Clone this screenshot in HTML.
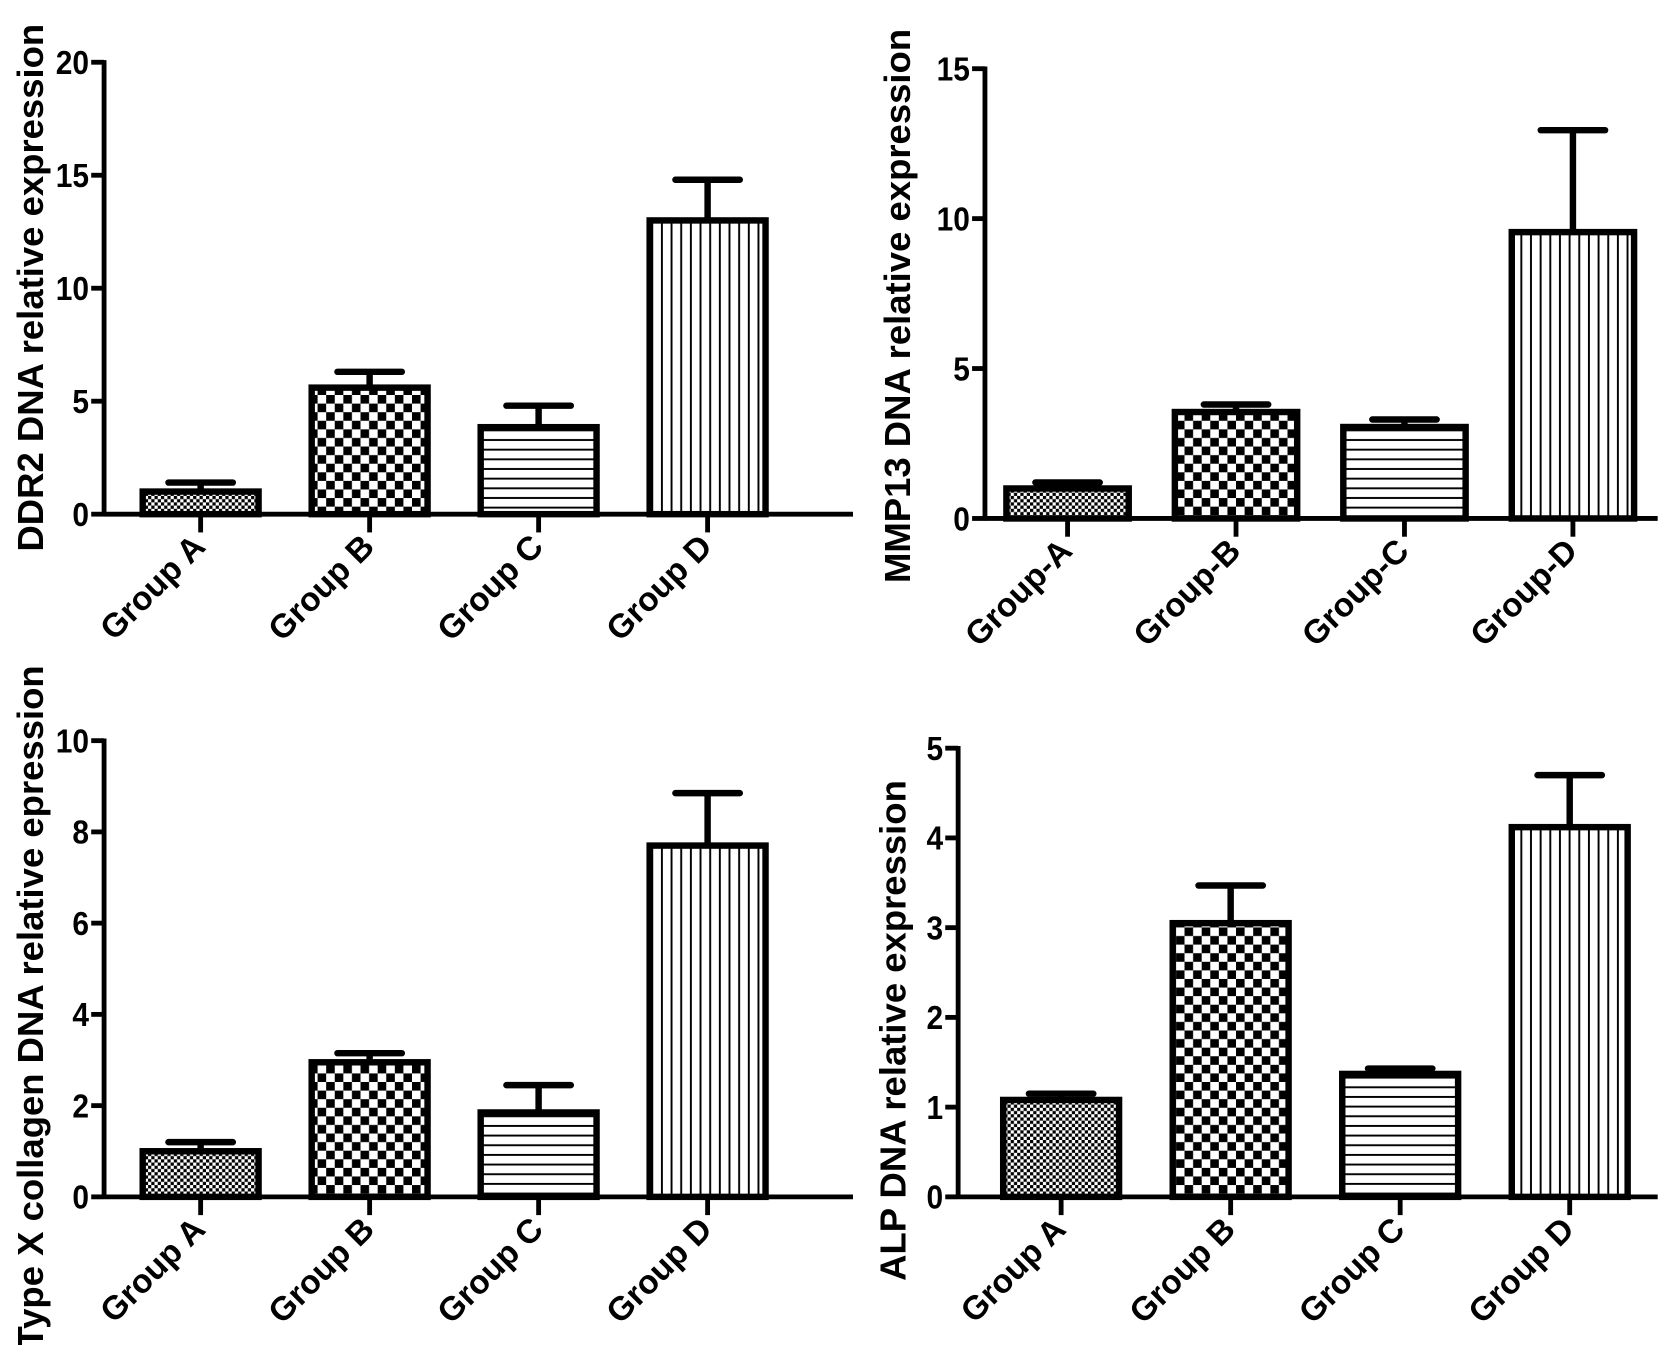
<!DOCTYPE html>
<html><head><meta charset="utf-8"><style>
html,body{margin:0;padding:0;background:#fff;}
svg{display:block;}
text{font-family:"Liberation Sans",sans-serif;font-weight:bold;fill:#000;}
</style></head><body>
<svg id="fig" width="1677" height="1345" viewBox="0 0 1563 1253" preserveAspectRatio="none" xmlns="http://www.w3.org/2000/svg">
<defs>
<pattern id="pA" width="6" height="6" patternUnits="userSpaceOnUse"><rect width="6" height="6" fill="#fff"/><rect width="3" height="3" fill="#000"/><rect x="3" y="3" width="3" height="3" fill="#000"/></pattern>
<pattern id="pB" width="16" height="16" patternUnits="userSpaceOnUse"><rect width="16" height="16" fill="#fff"/><rect width="8" height="8" fill="#000"/><rect x="8" y="8" width="8" height="8" fill="#000"/></pattern>
<pattern id="pC" width="10" height="9" patternUnits="userSpaceOnUse"><rect width="10" height="9" fill="#fff"/><rect y="4" width="10" height="1.8" fill="#000"/></pattern>
<pattern id="pD" width="9" height="10" patternUnits="userSpaceOnUse"><rect width="9" height="10" fill="#fff"/><rect x="4" width="1.8" height="10" fill="#000"/></pattern>
</defs>
</svg>
<script>
const NS='http://www.w3.org/2000/svg';
const svg=document.getElementById('fig');
const categoriesAB=['Group A','Group B','Group C','Group D'];
const categoriesMMP=['Group-A','Group-B','Group-C','Group-D'];
const ddr2Values=[1.0,5.6,3.85,13.0];
const ddr2Errors=[1.4,6.3,4.8,14.8];
const ddr2Ticks=[0,5,10,15,20];
const mmp13Values=[1.0,3.55,3.05,9.55];
const mmp13Errors=[1.2,3.8,3.3,12.95];
const mmp13Ticks=[0,5,10,15];
const colXValues=[1.0,2.95,1.85,7.7];
const colXErrors=[1.2,3.15,2.45,8.85];
const colXTicks=[0,2,4,6,8,10];
const alpValues=[1.08,3.05,1.37,4.12];
const alpErrors=[1.15,3.47,1.43,4.7];
const alpTicks=[0,1,2,3,4,5];
const fills=['url(#pA)','url(#pB)','url(#pC)','url(#pD)'];

function mk(tag,attrs,parent){const e=document.createElementNS(NS,tag);for(const k in attrs)e.setAttribute(k,attrs[k]);(parent||svg).appendChild(e);return e;}

function chart(cfg,cats,vals,errs,ticks,prefix){
  const g=mk('g',{});
  
  
  const max=ticks[ticks.length-1];
  const y=v=>cfg.y0-(v/max)*(cfg.y0-cfg.yTop);
  const x=i=>cfg.bx0+i*cfg.step;
  vals.forEach((v,i)=>{
    const cx=x(i)+cfg.bw/2;
    const eb=mk('path',{d:`M${cx} ${y(v)} V${y(errs[i])} M${cx-cfg.cap/2} ${y(errs[i])} H${cx+cfg.cap/2}`,stroke:'#000','stroke-width':6,'stroke-linecap':'round',fill:'none'},g);
    
    
    const r=mk('rect',{x:x(i),y:y(v),width:cfg.bw,height:cfg.y0-y(v),fill:fills[i],stroke:'#000','stroke-width':6},g);
    
    
  });
  const ya=mk('line',{x1:cfg.ax,y1:y(max)-2,x2:cfg.ax,y2:cfg.y0+2,stroke:'#000','stroke-width':4.5},g);
  
  
  const xa=mk('line',{x1:cfg.ax,y1:cfg.y0,x2:cfg.xEnd,y2:cfg.y0,stroke:'#000','stroke-width':4.5},g);
  
  
  ticks.forEach(t=>{
    mk('line',{x1:cfg.ax-12,y1:y(t),x2:cfg.ax,y2:y(t),stroke:'#000','stroke-width':4.5},g);
    const tl=mk('text',{x:cfg.ax-14,y:y(t)+11,'text-anchor':'end','font-size':31,textLength:(String(t).length*15.5),lengthAdjust:'spacingAndGlyphs'},g);
    tl.textContent=t;
    
    
  });
  cats.forEach((c,i)=>{
    const cx=x(i)+cfg.bw/2;
    mk('line',{x1:cx,y1:cfg.y0,x2:cx,y2:cfg.y0+17,stroke:'#000','stroke-width':4.5},g);
    const tx=cx+6, ty=cfg.y0+32;
    const cl=mk('text',{x:tx,y:ty,'text-anchor':'end','font-size':31,transform:`rotate(-45 ${tx} ${ty})`},g);
    cl.textContent=c;
    
    
  });
  const ty=mk('text',{x:cfg.tx,y:cfg.tyc,'text-anchor':'middle','font-size':34,transform:`rotate(-90 ${cfg.tx} ${cfg.tyc})`},g);
  ty.textContent=cfg.title;
  
  
}

chart({ax:97,y0:479,yTop:58,xEnd:795,bx0:133,step:157.5,bw:108,cap:60,tx:40,tyc:268,title:'DDR2 DNA relative expression'},categoriesAB,ddr2Values,ddr2Errors,ddr2Ticks,'ddr2');
chart({ax:918,y0:483,yTop:64,xEnd:1545,bx0:938,step:157,bw:114,cap:60,tx:848,tyc:285,title:'MMP13 DNA relative expression'},categoriesMMP,mmp13Values,mmp13Errors,mmp13Ticks,'mmp13');
chart({ax:97,y0:1115,yTop:690,xEnd:795,bx0:133,step:157.5,bw:108,cap:60,tx:40,tyc:938,title:'Type X collagen DNA relative epression'},categoriesAB,colXValues,colXErrors,colXTicks,'colx');
chart({ax:893,y0:1115,yTop:697,xEnd:1545,bx0:935,step:158,bw:108,cap:60,tx:844,tyc:960,title:'ALP DNA relative expression'},categoriesAB,alpValues,alpErrors,alpTicks,'alp');
</script>
</body></html>
